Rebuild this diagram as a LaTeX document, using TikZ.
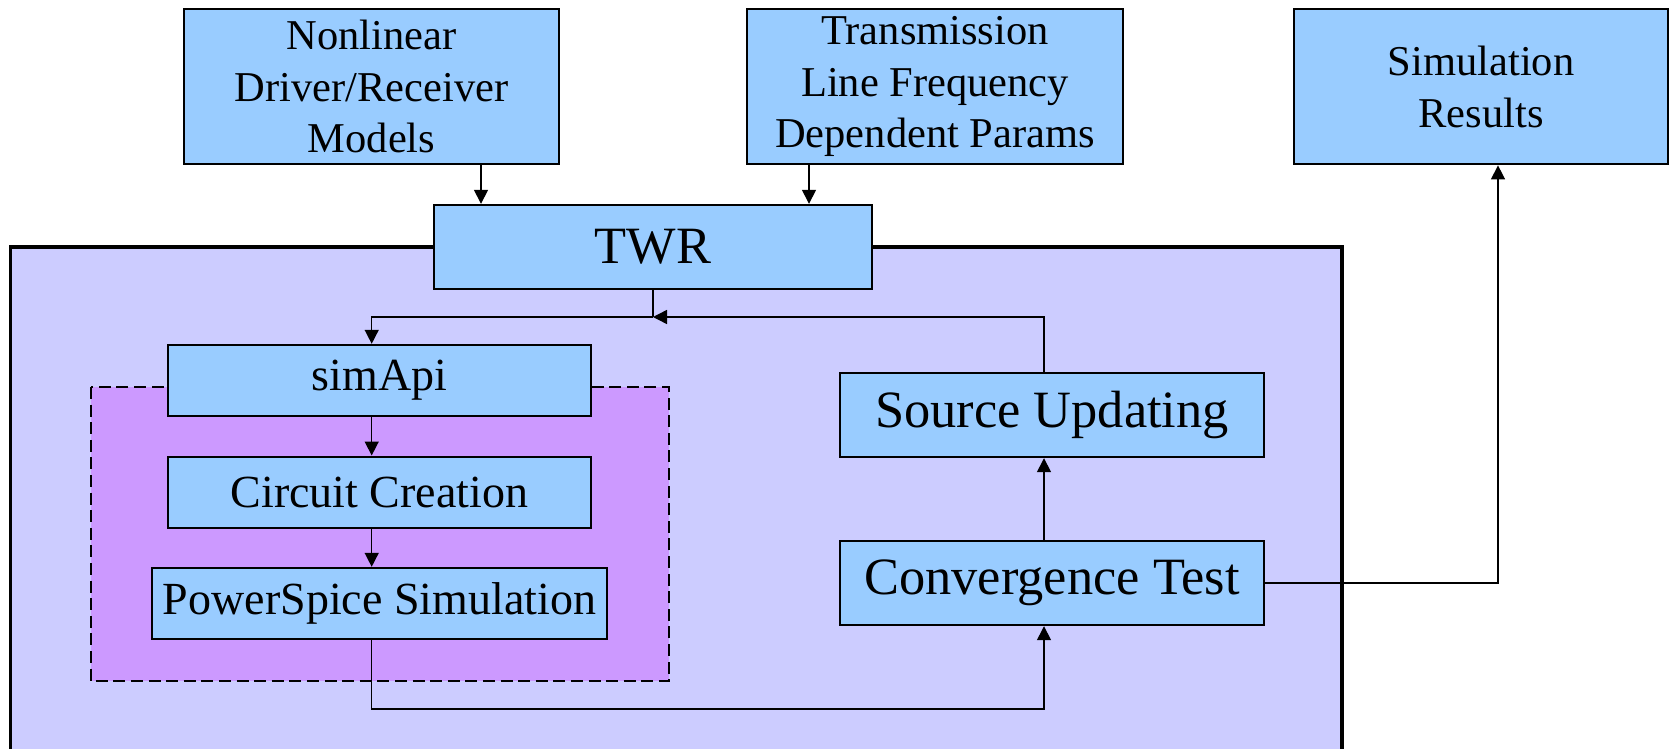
\documentclass[tikz,border=0pt]{standalone}
\usepackage{fontspec}
\setmainfont{Liberation Serif}
\usetikzlibrary{arrows.meta,positioning}
\definecolor{boxblue}{HTML}{99CCFF}
\definecolor{framelilac}{HTML}{CCCCFF}
\definecolor{groupviolet}{HTML}{CC99FF}
\newcommand{\fsTop}{\fontsize{21.25}{25.85}\selectfont}
\newcommand{\fsMid}{\fontsize{23}{27}\selectfont}
\newcommand{\fsBig}{\fontsize{26.2}{30}\selectfont}

\begin{document}
\begin{tikzpicture}[x=0.5pt, y=-0.5pt, >={Triangle[length=7pt,width=7pt]},
  blk/.style={draw=black, fill=boxblue, line width=1.2pt, inner sep=0pt, align=center},
  wire/.style={line width=0.75pt}]
  \useasboundingbox (0,0) rectangle (1670,749);
  % outer frame and the dashed group
  \draw[line width=1.7pt, fill=framelilac] (10.6,247) rectangle (1342,752);
  \draw[dash pattern=on 6pt off 2.8pt, line width=1pt, fill=groupviolet] (90.5,387) rectangle (669,681);

  \node[blk, minimum width=187.5pt, minimum height=77.5pt, font=\fsTop] (models) at (371.5,86.7) {Nonlinear\\Driver/Receiver\\Models};
  \node[blk, minimum width=188pt, minimum height=77.5pt, font=\fsTop] (params) at (935,86.7) {Transmission\\Line Frequency\\Dependent Params};
  \node[blk, minimum width=187pt, minimum height=77.5pt, font=\fsTop] (results) at (1481,86.7) {Simulation\\Results};
  \node[blk, minimum width=219pt, minimum height=42pt, font=\fsBig] (twr) at (653,247) {TWR};
  \node[blk, minimum width=211.5pt, minimum height=35.4pt, font=\fsMid] (simapi) at (379.5,380.4) {simApi};
  \node[blk, minimum width=211.5pt, minimum height=35.5pt, font=\fsMid] (circuit) at (379.5,492.2) {Circuit Creation};
  \node[blk, minimum width=227.5pt, minimum height=35.5pt, font=\fsMid] (spice) at (379.5,603.5) {PowerSpice Simulation};
  \node[blk, minimum width=212pt, minimum height=42pt, font=\fsBig] (source) at (1052,415) {Source Updating};
  \node[blk, minimum width=212pt, minimum height=42pt, font=\fsBig] (conv) at (1052,583) {Convergence Test};

  \coordinate (join) at (653,317);
  \draw[wire,->] ([xshift=54.75pt]models.south) -- ([xshift=54.75pt]models.south |- twr.north);
  \draw[wire,->] ([xshift=-63pt]params.south) -- ([xshift=-63pt]params.south |- twr.north);
  \draw[wire] (twr.south) -- (join);
  \draw[wire,->] (join) -| ([xshift=-3.9pt]simapi.north);
  \draw[wire,->] ([xshift=-3.9pt]simapi.south) -- ([xshift=-3.9pt]circuit.north);
  \draw[wire,->] ([xshift=-3.9pt]circuit.south) -- ([xshift=-3.9pt]spice.north);
  \draw[wire,->] ([xshift=-3.9pt]spice.south) -- ++(0,69) -| ([xshift=-4pt]conv.south);
  \draw[wire,->] ([xshift=-4pt]conv.north) -- ([xshift=-4pt]source.south);
  \draw[wire,->] ([xshift=-4pt]source.north) |- (join);
  \draw[wire,->] (conv.east) -| ([xshift=8.5pt]results.south);
\end{tikzpicture}
\end{document}
